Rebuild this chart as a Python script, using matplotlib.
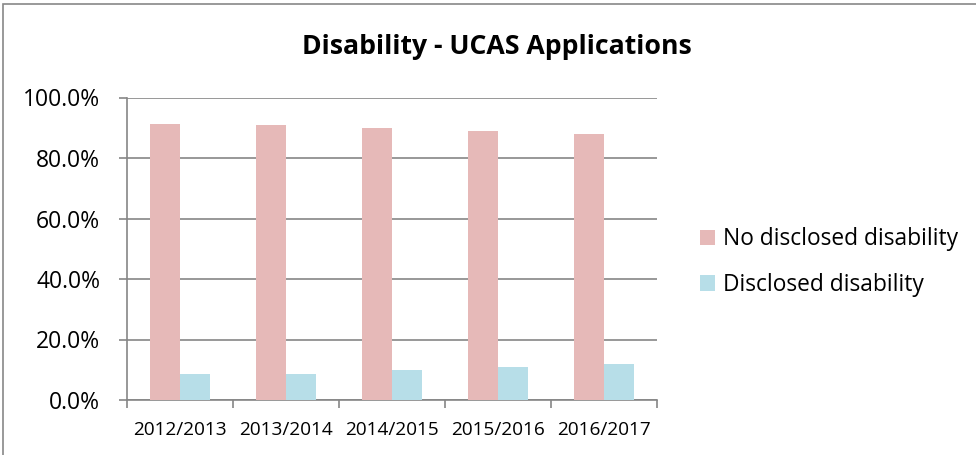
import matplotlib.pyplot as plt
import numpy as np
from matplotlib.patches import Rectangle
from matplotlib.ticker import FuncFormatter

years = ['2012/2013', '2013/2014', '2014/2015', '2015/2016', '2016/2017']
no_disclosed = [91.3, 91.0, 89.9, 88.8, 87.9]
disclosed = [8.6, 8.7, 9.8, 11.0, 11.9]

pink = '#E6B9B8'
blue = '#B7DEE8'
grid_col = '#868686'

plt.rcParams['font.family'] = ['Open Sans', 'DejaVu Sans']

fig = plt.figure(figsize=(9.76, 4.55), dpi=100)
ax = fig.add_axes([127/976, 1-400/455, 530/976, 302.5/455])

x = np.arange(len(years))
w = 0.283
ax.bar(x - w/2, no_disclosed, w, color=pink, label='No disclosed disability', zorder=3)
ax.bar(x + w/2, disclosed, w, color=blue, label='Disclosed disability', zorder=3)

ax.set_xlim(-0.5, len(years) - 0.5)
ax.set_ylim(0, 100)
ax.set_yticks(np.arange(0, 101, 20))
ax.yaxis.set_major_formatter(FuncFormatter(lambda v, p: f'{v:.1f}%'))
ax.yaxis.grid(True, color=grid_col, linewidth=1.2, zorder=0)

# category labels at centre, tick marks at boundaries
ax.set_xticks(x)
ax.set_xticklabels(years, fontsize=13.7)
ax.set_xticks(np.arange(-0.5, len(years)), minor=True)
ax.tick_params(axis='x', which='major', length=0, pad=15)
ax.tick_params(axis='x', which='minor', length=5.5, width=1.2, color=grid_col, direction='out')
ax.tick_params(axis='y', length=5.8, width=1.2, color=grid_col, direction='out', pad=13.5, labelsize=16.5)

for s in ['top', 'right']:
    ax.spines[s].set_visible(False)
for s in ['left', 'bottom']:
    ax.spines[s].set_color(grid_col)
    ax.spines[s].set_linewidth(1.2)

fig.text(497/976, 1-54/455, 'Disability - UCAS Applications', ha='center', va='baseline',
         fontsize=19.2, fontweight='bold')

leg = fig.legend(loc='center left', bbox_to_anchor=(700/976, 1-262/455), frameon=False,
                 fontsize=16.4, handlelength=0.66, handleheight=0.66, handletextpad=0.35,
                 labelspacing=0.95, borderpad=0, borderaxespad=0)

fig.patches.append(Rectangle((3/976, -0.05), 1.2, 1 - 3/455 + 0.05 - 1/455, transform=fig.transFigure,
                             fill=False, edgecolor='#888888', linewidth=1.2))

fig.savefig('out.png', dpi=100)
